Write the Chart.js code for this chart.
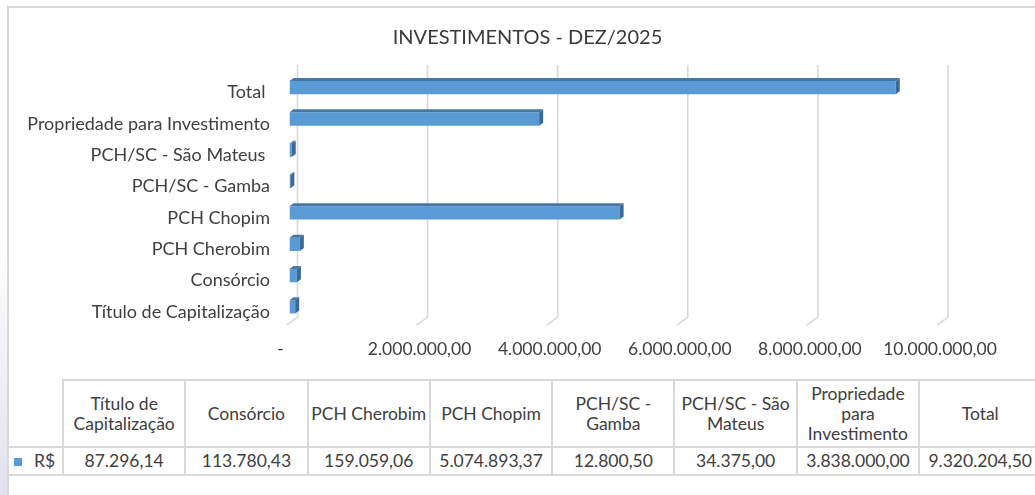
<!DOCTYPE html>
<html><head><meta charset="utf-8">
<script src="https://cdn.jsdelivr.net/npm/chart.js@4.4.1/dist/chart.umd.min.js"></script>
<style>
html,body{margin:0;padding:0;width:1035px;height:495px;overflow:hidden;background:#fff;font-family:Lato,'Noto Sans',sans-serif;}
#strip{position:absolute;left:0;top:0;width:7px;height:495px;background:linear-gradient(to bottom,#fff 0px,#fff 240px,#e1e1ed 495px);}
#frame{position:absolute;left:7px;top:6px;width:1040px;height:500px;border-top:2px solid #d9d9d9;border-left:2px solid #d9d9d9;}
#wrap{position:absolute;left:0;top:0;width:1035px;height:378px;}
#tbl{position:absolute;left:9px;top:379px;border-collapse:collapse;table-layout:fixed;color:#404040;font-size:17.5px;font-family:Lato,sans-serif;}
#tbl td{border:2px solid #d9d9d9;text-align:center;padding:0;white-space:pre;line-height:20px;overflow:hidden;}
#tbl tr.h td{height:65px;}
#tbl tr.d td{height:26px;}
#tbl td.first{border-left:none;text-align:left;padding-left:5px;}
#tbl tr.h td.first{border-top:none;}
.sq{display:inline-block;width:8px;height:8px;background:#5B9BD5;margin-right:12px;vertical-align:1px;}
</style>
</head><body>
<div id="strip"></div>
<div id="frame"></div>
<div id="wrap"><canvas id="c" width="1035" height="378"></canvas></div>
<table id="tbl"></table>
<script>
const TITLE = 'INVESTIMENTOS - DEZ/2025';
const axisLabels = ['Título de Capitalização','Consórcio','PCH Cherobim','PCH Chopim','PCH/SC - Gamba','PCH/SC - São Mateus ','Propriedade para Investimento','Total '];
const tableHeaders = ['Título de\nCapitalização','Consórcio','PCH Cherobim','PCH Chopim','PCH/SC -\nGamba','PCH/SC - São\nMateus','Propriedade\npara\nInvestimento','Total'];
const seriesName = 'R$';
const values = [87296.14, 113780.43, 159059.06, 5074893.37, 12800.50, 34375.00, 3838000.00, 9320204.50];
const xMin = 0, xMax = 10000000, xStep = 2000000;

function fmtBR(v){
  let s = Math.abs(v).toFixed(2);
  let parts = s.split('.');
  let i = parts[0].replace(/\B(?=(\d{3})+(?!\d))/g,'.');
  return i + ',' + parts[1];
}

// Table
const tbl = document.getElementById('tbl');
const colW = [54].concat(tableHeaders.map(()=>122.3));
let cg = '<colgroup>' + colW.map(w=>'<col style="width:'+w+'px">').join('') + '</colgroup>';
let h = '<tr class="h"><td class="first"></td>' + tableHeaders.map(t=>'<td>'+t+'</td>').join('') + '</tr>';
let d = '<tr class="d"><td class="first"><span class="sq"></span>' + seriesName + '</td>' + values.map(v=>'<td>'+fmtBR(v)+'</td>').join('') + '</tr>';
tbl.innerHTML = cg + h + d;
tbl.style.width = colW.reduce((a,b)=>a+b,0) + 'px';

const grid3d = {
  id:'grid3d',
  beforeDatasetsDraw(chart){
    const {ctx, chartArea, scales:{x}} = chart;
    ctx.save();
    ctx.strokeStyle = '#D9D9D9';
    ctx.lineWidth = 1.6;
    x.ticks.forEach(t=>{
      const px = x.getPixelForValue(t.value);
      ctx.beginPath();
      ctx.moveTo(px+8, chartArea.top-7);
      ctx.lineTo(px+8, chartArea.bottom-5.5);
      ctx.lineTo(px-3, chartArea.bottom+2.5);
      ctx.stroke();
    });
    ctx.restore();
  }
};
const bars3d = {
  id:'bars3d',
  afterDatasetsDraw(chart){
    const ctx = chart.ctx;
    const meta = chart.getDatasetMeta(0);
    ctx.save();
    meta.data.forEach(b=>{
      const p = b.getProps(['x','y','base','height'], true);
      const top = p.y - p.height/2, bot = p.y + p.height/2;
      const dx = 4, dy = 3;
      ctx.fillStyle = '#4677A6';
      ctx.beginPath();
      ctx.moveTo(p.base, top); ctx.lineTo(p.base+dx, top-dy); ctx.lineTo(p.x+dx, top-dy); ctx.lineTo(p.x, top);
      ctx.closePath(); ctx.fill();
      ctx.fillStyle = '#3D6A94';
      ctx.beginPath();
      ctx.moveTo(p.x, top); ctx.lineTo(p.x+dx, top-dy); ctx.lineTo(p.x+dx, bot-dy); ctx.lineTo(p.x, bot);
      ctx.closePath(); ctx.fill();
    });
    ctx.restore();
  }
};

new Chart(document.getElementById('c').getContext('2d'), {
  type:'bar',
  data:{labels:axisLabels, datasets:[{label:seriesName, data:values, backgroundColor:'#5B9BD5', borderWidth:0, categoryPercentage:0.5, barPercentage:0.85}]},
  options:{
    indexAxis:'y', responsive:false, animation:false, devicePixelRatio:1,
    layout:{padding:{left:20,right:0,top:15,bottom:0}},
    plugins:{
      legend:{display:false}, tooltip:{enabled:false},
      title:{display:true, text:TITLE, color:'#3a3a3a', font:{family:'Lato', size:20, weight:'normal'}, padding:{top:11,bottom:22}}
    },
    scales:{
      x:{min:xMin, max:xMax,
         ticks:{stepSize:xStep, autoSkip:false, maxRotation:0, color:'#404040', font:{family:'Lato', size:17.5}, padding:16,
                callback:(v)=> v===0 ? '-    ' : fmtBR(v)},
         grid:{display:false, drawTicks:false}, border:{display:false},
         afterFit:(s)=>{s.height = 55.4;}},
      y:{reverse:true,
         ticks:{color:'#404040', font:{family:'Lato', size:18}, padding:19.5, labelOffset:5, autoSkip:false},
         grid:{display:false, drawTicks:false}, border:{display:false},
         afterFit:(s)=>{s.width = 269.5;}},
      yr:{type:'category', labels:axisLabels, position:'right', display:true,
         ticks:{display:false}, grid:{display:false, drawTicks:false}, border:{display:false},
         afterFit:(s)=>{s.width = 95;}}
    }
  },
  plugins:[grid3d, bars3d]
});
</script>
</body></html>
